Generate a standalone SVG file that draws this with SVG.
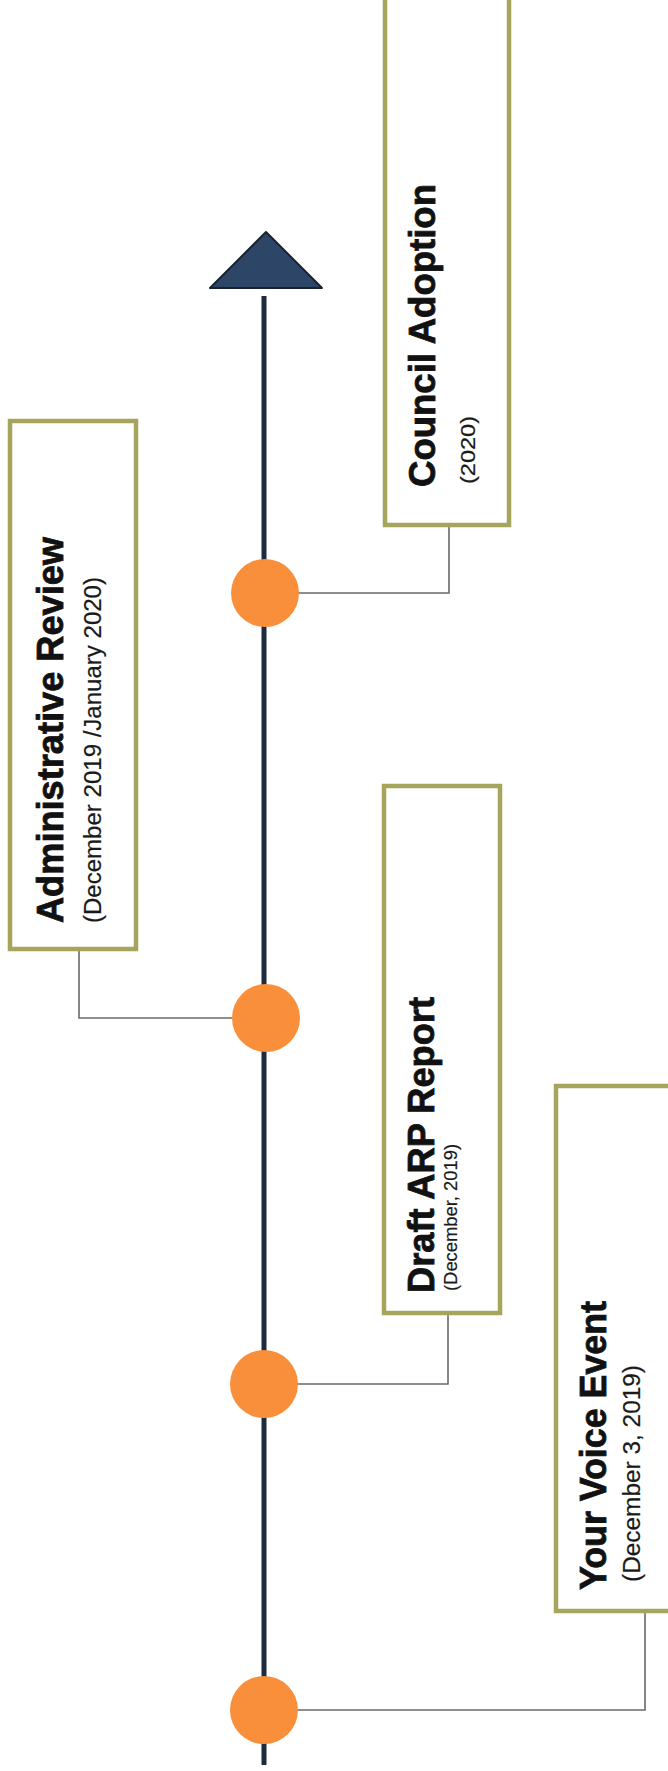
<svg xmlns="http://www.w3.org/2000/svg" width="668" height="1771" viewBox="0 0 668 1771">
<style>
.bg{fill:#ffffff}
.box{fill:#ffffff;stroke:#a6a55c;stroke-width:4.5}
.dot{fill:#f98f3b}
.conn{fill:none;stroke:#6a6a6a;stroke-width:1.6}
.axis{stroke:#1d2b3f;stroke-width:5;fill:none}
.head{fill:#2d4668;stroke:#1a2230;stroke-width:2;stroke-linejoin:round}
.title{font-family:"Liberation Sans",Arial,sans-serif;font-weight:bold;font-size:36px;fill:#111111;stroke:#111111;stroke-width:0.8}
.sub{font-family:"Liberation Sans",Arial,sans-serif;fill:#1a1a1a;stroke:#1a1a1a;stroke-width:0.2}
</style>
<rect class="bg" x="0" y="0" width="668" height="1771"/>
<g id="timeline">
  <line class="axis" x1="264" y1="296" x2="264" y2="1765"/>
  <polygon class="head" points="266,232 210,288 322,288"/>
</g>
<g id="connectors">
  <path class="conn" d="M264 593 H449 V525"/>
  <path class="conn" d="M79 949 V1018 H266"/>
  <path class="conn" d="M264 1384 H448 V1313"/>
  <path class="conn" d="M264 1710 H645 V1611"/>
</g>
<g id="milestone-council">
  <circle class="dot" cx="265" cy="593" r="34"/>
</g>
<g id="milestone-admin">
  <circle class="dot" cx="266" cy="1018" r="34"/>
</g>
<g id="milestone-draft">
  <circle class="dot" cx="264" cy="1384" r="34"/>
</g>
<g id="milestone-voice">
  <circle class="dot" cx="264" cy="1710" r="34"/>
</g>
<g id="box-council">
  <rect class="box" x="385" y="-5" width="124" height="530"/>
  <text class="title" transform="translate(435,487) rotate(-90)" textLength="303" lengthAdjust="spacingAndGlyphs">Council Adoption</text>
  <text class="sub" font-size="20" transform="translate(475,484) rotate(-90)" textLength="68" lengthAdjust="spacingAndGlyphs">(2020)</text>
</g>
<g id="box-admin">
  <rect class="box" x="10" y="421" width="126" height="528"/>
  <text class="title" transform="translate(63,923) rotate(-90)" textLength="386" lengthAdjust="spacingAndGlyphs">Administrative Review</text>
  <text class="sub" font-size="23" transform="translate(101,923) rotate(-90)" textLength="346" lengthAdjust="spacingAndGlyphs">(December 2019 /January 2020)</text>
</g>
<g id="box-draft">
  <rect class="box" x="384" y="786" width="116" height="527"/>
  <text class="title" transform="translate(434,1293) rotate(-90)" textLength="296" lengthAdjust="spacingAndGlyphs">Draft ARP Report</text>
  <text class="sub" font-size="19" transform="translate(457,1291) rotate(-90)" textLength="147" lengthAdjust="spacingAndGlyphs">(December, 2019)</text>
</g>
<g id="box-voice">
  <rect class="box" x="556" y="1086" width="130" height="525"/>
  <text class="title" transform="translate(606,1590) rotate(-90)" textLength="289" lengthAdjust="spacingAndGlyphs">Your Voice Event</text>
  <text class="sub" font-size="23" transform="translate(640,1582) rotate(-90)" textLength="217" lengthAdjust="spacingAndGlyphs">(December 3, 2019)</text>
</g>
</svg>
